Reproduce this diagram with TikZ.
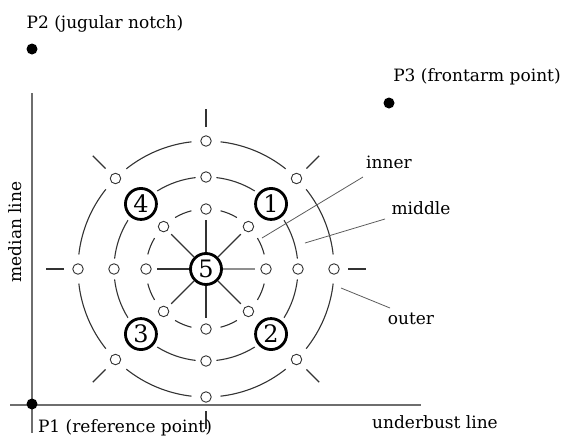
\documentclass[tikz,border=0pt]{standalone}
\usepackage{fontspec}
\setmainfont{DejaVu Serif}
\usetikzlibrary{calc}
\definecolor{ink}{HTML}{333333}
\definecolor{axis}{HTML}{6E6E6E}
\begin{document}
\begin{tikzpicture}[x=1pt,y=-1pt,
  ring/.style={draw=ink,line width=1.1pt},
  sm/.style={circle,draw=ink,fill=white,line width=0.9pt,minimum size=10.5pt,inner sep=0pt},
  num/.style={circle,draw=black,fill=white,line width=2.8pt,minimum size=31pt,inner sep=0pt,font=\fontsize{24}{24}\selectfont},
  spoke/.style={draw=ink,line width=1.1pt,shorten >=5pt},
  ticku/.style={draw=ink,line width=1.1pt},
  leader/.style={draw=ink!80,line width=0.8pt},
  lab/.style={inner sep=0pt,text=black,font=\fontsize{17}{19}\selectfont},
  dot/.style={circle,fill=black,minimum size=11pt,inner sep=0pt},
  axisline/.style={draw=axis,line width=1.5pt}]
\useasboundingbox (0,0) rectangle (566,440);
\coordinate (C) at (206,269);
% axes
\coordinate (vt) at (32,93);
\coordinate (vb) at (32,433);
\coordinate (hl) at (10,405);
\coordinate (hr) at (421,405);
\draw[axisline] (vt) -- (vb);
\draw[axisline] (hl) -- (hr);
\node[dot] (P1) at (32,404) {};
\node[dot] (P2) at (32,49) {};
\node[dot] (P3) at (389,103) {};
% rings
\foreach \k in {0,...,7}{
  \draw[ring] ([shift={({45*\k+6.5}:128)}]C) arc[start angle={45*\k+6.5}, end angle={45*\k+38.5}, radius=128];
  \draw[ring] ([shift={({45*\k+14}:60)}]C) arc[start angle={45*\k+14}, end angle={45*\k+31}, radius=60];
}
\foreach \k in {0,...,3}{
  \draw[ring] ([shift={({90*\k+6.5}:92)}]C) arc[start angle={90*\k+6.5}, end angle={90*\k+32}, radius=92];
  \draw[ring] ([shift={({90*\k+58}:92)}]C) arc[start angle={90*\k+58}, end angle={90*\k+83.5}, radius=92];
}
% ticks
\foreach \a [count=\i] in {0,45,...,315}{
  \coordinate (ta\i) at ([shift={(\a:142)}]C);
  \coordinate (tb\i) at ([shift={(\a:160)}]C);
  \draw[ticku] (ta\i) -- (tb\i);
}
% small circles
\foreach \a [count=\i] in {0,45,...,315}{
  \node[sm] (o\i) at ([shift={(\a:128)}]C) {};
  \node[sm] (i\i) at ([shift={(\a:60)}]C) {};
}
\foreach \a [count=\i] in {0,90,180,270}{
  \node[sm] (m\i) at ([shift={(\a:92)}]C) {};
}
% numbered
\node[num] (n1) at ([shift={(315:92)}]C) {1};
\node[num] (n2) at ([shift={(45:92)}]C) {2};
\node[num] (n3) at ([shift={(135:92)}]C) {3};
\node[num] (n4) at ([shift={(225:92)}]C) {4};
\node[num] (n5) at (C) {5};
% spokes
\foreach \i in {2,...,8}{ \draw[spoke] (n5) -- (i\i); }
\draw[spoke,draw=ink!55,line width=2pt] (n5) -- (i1);
% labels
\node[lab] (lP2) at (105,24) {P2 (jugular notch)};
\node[lab] (lP3) at (477,77) {P3 (frontarm point)};
\node[lab] (lP1) at (125,428) {P1 (reference point)};
\node[lab] (lub) at (435,422) {underbust line};
\node[lab,rotate=90] (lmed) at (15,232) {median line};
\node[lab] (lin) at (389,162) {inner};
\node[lab] (lmid) at (421,208) {middle};
\node[lab] (lout) at (411,319) {outer};
% leaders
\coordinate (cin) at (262,238);
\coordinate (cmid) at (305,243);
\coordinate (cout) at (341,288);
\coordinate (sin) at (363,177);
\coordinate (smid) at (385,219);
\coordinate (sout) at (390,308);
\draw[leader] (sin) -- (cin);
\draw[leader] (smid) -- (cmid);
\draw[leader] (sout) -- (cout);
\end{tikzpicture}
\end{document}
